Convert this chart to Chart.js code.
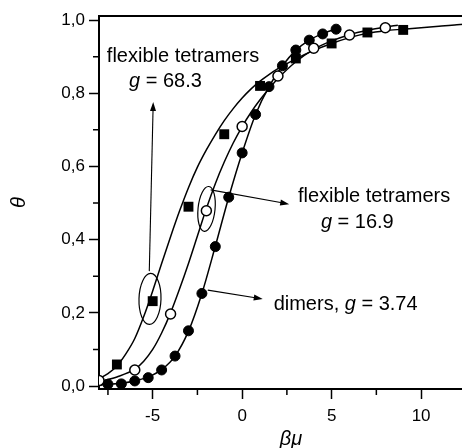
<!DOCTYPE html>
<html>
<head>
<meta charset="utf-8">
<script src="https://cdn.jsdelivr.net/npm/chart.js@4.4.1/dist/chart.umd.min.js"></script>
<style>
  html, body { margin: 0; padding: 0; background: #fff; overflow: hidden; }
  #wrap { width: 490px; height: 448px; }
</style>
</head>
<body>
<div id="wrap"><canvas id="c" width="490" height="448"></canvas></div>
<script>
/* ── data ── */

// dimers, g = 3.74 (filled circles)
const dimerX = [-7.5, -6.75, -6, -5.25, -4.5, -3.75, -3, -2.25, -1.5, -0.75, 0, 0.75, 1.5, 2.25, 3, 3.75, 4.5, 5.25];
const dimerY = [0.005, 0.006, 0.014, 0.023, 0.044, 0.082, 0.151, 0.253, 0.381, 0.516, 0.637, 0.742, 0.818, 0.875, 0.918, 0.945, 0.962, 0.975];

// flexible tetramers, g = 16.9 (open circles)
const openX = [-8, -6, -4, -2, 0, 2, 4, 6, 8];
const openY = [0.015, 0.044, 0.197, 0.479, 0.709, 0.847, 0.923, 0.959, 0.979];

// flexible tetramers, g = 68.3 (squares)
const squareX = [-7, -5, -3, -1, 1, 3, 5, 7, 9];
const squareY = [0.059, 0.232, 0.49, 0.688, 0.82, 0.895, 0.936, 0.966, 0.973];

// fitted curves
const curveDimerX = [-8, -7.5, -6.75, -6, -5.25, -4.5, -3.75, -3, -2.25, -1.5, -0.75, 0, 0.75, 1.5, 2.25, 3, 3.75, 4.5, 5.3];
const curveDimerY = [0.003, 0.005, 0.008, 0.014, 0.025, 0.045, 0.082, 0.15, 0.253, 0.382, 0.516, 0.637, 0.742, 0.818, 0.875, 0.917, 0.945, 0.963, 0.976];

const curve169X = [-8, -7, -6, -5.5, -5, -4.5, -4, -3.5, -3, -2.5, -2, -1.5, -1, -0.5, 0, 0.5, 1, 1.5, 2, 3, 4, 5, 6, 7, 8, 8.7];
const curve169Y = [0.012, 0.025, 0.046, 0.068, 0.1, 0.145, 0.2, 0.265, 0.335, 0.41, 0.485, 0.553, 0.612, 0.664, 0.709, 0.748, 0.782, 0.812, 0.84, 0.886, 0.92, 0.943, 0.96, 0.972, 0.981, 0.986];

const curve683X = [-8, -7.5, -7, -6.5, -6, -5.5, -5, -4.5, -4, -3.5, -3, -2.5, -2, -1.5, -1, -0.5, 0, 0.5, 1, 1.5, 2, 3, 4, 5, 6, 7, 8, 9, 10, 11, 12, 13.5];
const curve683Y = [0.02, 0.034, 0.055, 0.088, 0.13, 0.19, 0.26, 0.335, 0.408, 0.478, 0.542, 0.598, 0.645, 0.687, 0.725, 0.758, 0.787, 0.812, 0.833, 0.851, 0.867, 0.894, 0.917, 0.936, 0.952, 0.964, 0.971, 0.975, 0.979, 0.983, 0.987, 0.991];

// axes
const xTicks = [-5, 0, 5, 10];
const xMinor = [-7.5, -2.5, 2.5, 7.5, 12.5];
const yTicks = [0, 0.2, 0.4, 0.6, 0.8, 1.0];
const yMinor = [0.1, 0.3, 0.5, 0.7, 0.9];

const pts = (xs, ys) => xs.map((x, i) => ({ x, y: ys[i] }));

const FONT = "'Liberation Sans', Arial, Helvetica, sans-serif";

/* ── annotations: minor ticks, top frame, labels, arrows, ellipses ── */
const extras = {
  id: 'extras',
  afterDraw(chart) {
    const { ctx, chartArea: a, scales: { x, y } } = chart;
    const px = v => x.getPixelForValue(v);
    const py = v => y.getPixelForValue(v);
    ctx.save();
    ctx.strokeStyle = '#000';
    ctx.fillStyle = '#000';

    // top frame
    ctx.lineWidth = 2;
    ctx.beginPath();
    ctx.moveTo(a.left - 1, a.top);
    ctx.lineTo(a.right, a.top);
    ctx.stroke();

    // minor ticks
    ctx.lineWidth = 1.5;
    ctx.beginPath();
    xMinor.forEach(v => { ctx.moveTo(px(v), a.bottom); ctx.lineTo(px(v), a.bottom + 6); });
    yMinor.forEach(v => { ctx.moveTo(a.left, py(v)); ctx.lineTo(a.left - 6, py(v)); });
    ctx.stroke();

    // ellipses
    ctx.lineWidth = 1.2;
    ctx.beginPath();
    ctx.ellipse(px(-5.15), py(0.238), 11, 25.5, 0.03, 0, Math.PI * 2);
    ctx.stroke();
    ctx.beginPath();
    ctx.ellipse(px(-1.99), py(0.484), 8.5, 22.5, 0.1, 0, Math.PI * 2);
    ctx.stroke();

    // arrows
    const arrow = (x0, y0, x1, y1) => {
      const X0 = px(x0), Y0 = py(y0), X1 = px(x1), Y1 = py(y1);
      const ang = Math.atan2(Y1 - Y0, X1 - X0);
      ctx.lineWidth = 1.1;
      ctx.beginPath();
      ctx.moveTo(X0, Y0);
      ctx.lineTo(X1 - 6 * Math.cos(ang), Y1 - 6 * Math.sin(ang));
      ctx.stroke();
      ctx.beginPath();
      ctx.moveTo(X1, Y1);
      ctx.lineTo(X1 - 9 * Math.cos(ang) + 3 * Math.sin(ang), Y1 - 9 * Math.sin(ang) - 3 * Math.cos(ang));
      ctx.lineTo(X1 - 9 * Math.cos(ang) - 3 * Math.sin(ang), Y1 - 9 * Math.sin(ang) + 3 * Math.cos(ang));
      ctx.closePath();
      ctx.fill();
    };
    arrow(-5.19, 0.314, -4.97, 0.776);
    arrow(-1.76, 0.536, 2.63, 0.497);
    arrow(-1.92, 0.262, 1.15, 0.238);

    // labels
    ctx.textBaseline = 'alphabetic';
    ctx.textAlign = 'left';
    const text = (parts, xv, yv) => {
      let X = px(xv);
      parts.forEach(([s, italic]) => {
        ctx.font = (italic ? 'italic ' : '') + '20px ' + FONT;
        ctx.fillText(s, X, py(yv));
        X += ctx.measureText(s).width;
      });
    };
    text([['flexible tetramers', false]], -7.56, 0.885);
    text([['g', true], [' = 68.3', false]], -6.32, 0.817);
    text([['flexible tetramers', false]], 3.12, 0.504);
    text([['g', true], [' = 16.9', false]], 4.40, 0.431);
    text([['dimers, ', false], ['g', true], [' = 3.74', false]], 1.76, 0.208);

    ctx.restore();
  }
};

const curveStyle = {
  showLine: true,
  borderColor: '#000',
  borderWidth: 1.5,
  pointRadius: 0,
  cubicInterpolationMode: 'monotone',
  fill: false,
  order: 1
};

new Chart(document.getElementById('c'), {
  type: 'scatter',
  data: {
    datasets: [
      { ...curveStyle, label: 'fit 68.3', data: pts(curve683X, curve683Y) },
      { ...curveStyle, label: 'fit 16.9', data: pts(curve169X, curve169Y) },
      { ...curveStyle, label: 'fit dimers', data: pts(curveDimerX, curveDimerY) },
      {
        label: 'g = 68.3', data: pts(squareX, squareY),
        pointStyle: 'rect', pointRadius: 7, backgroundColor: '#000', borderColor: '#000', borderWidth: 0, order: 0
      },
      {
        label: 'g = 16.9', data: pts(openX, openY),
        pointStyle: 'circle', pointRadius: 5, backgroundColor: '#fff', borderColor: '#000', borderWidth: 1.5, order: 0
      },
      {
        label: 'dimers', data: pts(dimerX, dimerY),
        pointStyle: 'circle', pointRadius: 5, backgroundColor: '#000', borderColor: '#000', borderWidth: 1, order: 0
      }
    ]
  },
  options: {
    responsive: false,
    animation: false,
    layout: { padding: { top: 16, left: 0, right: 0, bottom: 0 } },
    plugins: { legend: { display: false }, tooltip: { enabled: false } },
    scales: {
      x: {
        type: 'linear',
        min: -8,
        max: 13.46,
        afterBuildTicks: s => { s.ticks = xTicks.map(v => ({ value: v })); },
        afterFit: s => { s.height = 59; },
        grid: { drawOnChartArea: false, drawTicks: true, tickLength: 10, tickColor: '#000', tickWidth: 1.5 },
        border: { display: true, color: '#000', width: 2 },
        ticks: { color: '#000', font: { family: FONT, size: 17 }, padding: 7, callback: v => String(v) },
        title: { display: true, text: 'βμ', color: '#000', font: { family: FONT, size: 20, style: 'italic' }, padding: { top: 0, bottom: -3 } }
      },
      y: {
        type: 'linear',
        min: -0.008,
        max: 1.011,
        afterBuildTicks: s => { s.ticks = yTicks.map(v => ({ value: v })); },
        afterFit: s => { s.width = 99; },
        grid: { drawOnChartArea: false, drawTicks: true, tickLength: 10, tickColor: '#000', tickWidth: 1.5 },
        border: { display: true, color: '#000', width: 2 },
        ticks: { color: '#000', font: { family: FONT, size: 17 }, padding: 4, callback: v => v.toFixed(1).replace('.', ',') },
        title: { display: true, text: 'θ', color: '#000', font: { family: FONT, size: 20, style: 'italic' }, padding: { top: 7, bottom: 0 } }
      }
    }
  },
  plugins: [extras]
});
</script>
</body>
</html>
